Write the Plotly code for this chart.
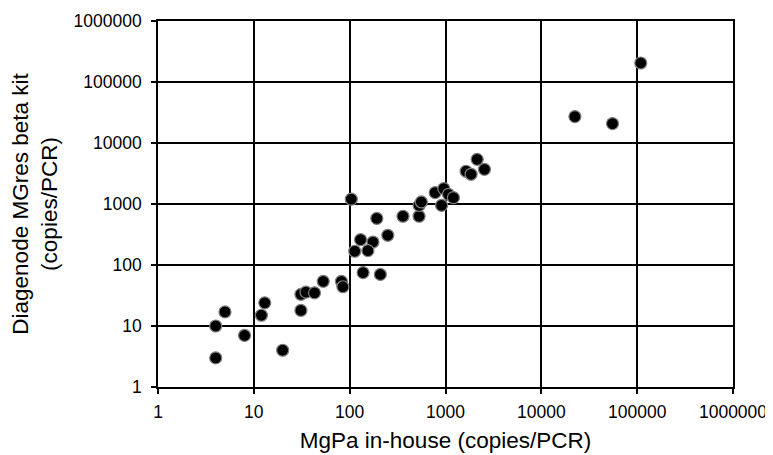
import plotly.graph_objects as go

mgpa_inhouse = [4, 4, 5, 8, 20, 13, 12, 31, 31, 35, 43, 53, 82, 85,
                104, 192, 360, 530, 530, 560, 780, 960, 1075, 1210, 910,
                130, 175, 250, 113, 155, 138, 209,
                2140, 1640, 1850, 2550, 22400, 55300, 109000]
diagenode = [10, 3, 17, 7, 4, 24, 15, 18, 33, 36, 35, 54, 54, 44,
             1200, 580, 630, 630, 950, 1080, 1540, 1790, 1440, 1270, 950,
             260, 238, 307, 168, 172, 75, 70,
             5400, 3440, 3070, 3700, 27100, 20800, 205000]

fig = go.Figure()
fig.add_trace(go.Scatter(
    x=mgpa_inhouse, y=diagenode, mode="markers",
    marker=dict(size=12, color="black", line=dict(color="#7f7f7f", width=1.2)),
    showlegend=False, cliponaxis=False,
))

axis_common = dict(
    type="log", range=[0, 6], dtick=1, tickformat="d",
    showgrid=True, gridcolor="black", gridwidth=1.5,
    showline=True, linecolor="black", linewidth=1.5, mirror=True,
    ticks="outside", ticklen=5, tickwidth=1.5, tickcolor="black",
    tickfont=dict(family="Liberation Sans, Arial", size=17.5, color="black"),
    zeroline=False, automargin=False,
)

fig.update_xaxes(**axis_common, ticklabelstandoff=3,
                 title=dict(text="MgPa in-house (copies/PCR)",
                            font=dict(family="Liberation Sans, Arial", size=22.5, color="black"),
                            standoff=11))
fig.update_yaxes(**axis_common, ticklabelstandoff=6,
                 title=dict(text="Diagenode MGres beta kit<br>(copies/PCR)",
                            font=dict(family="Liberation Sans, Arial", size=22.5, color="black"),
                            standoff=12))

fig.update_layout(
    width=765, height=447,
    margin=dict(l=150, r=40, t=13, b=68),
    plot_bgcolor="white", paper_bgcolor="white",
)

fig.write_html("out.html")
